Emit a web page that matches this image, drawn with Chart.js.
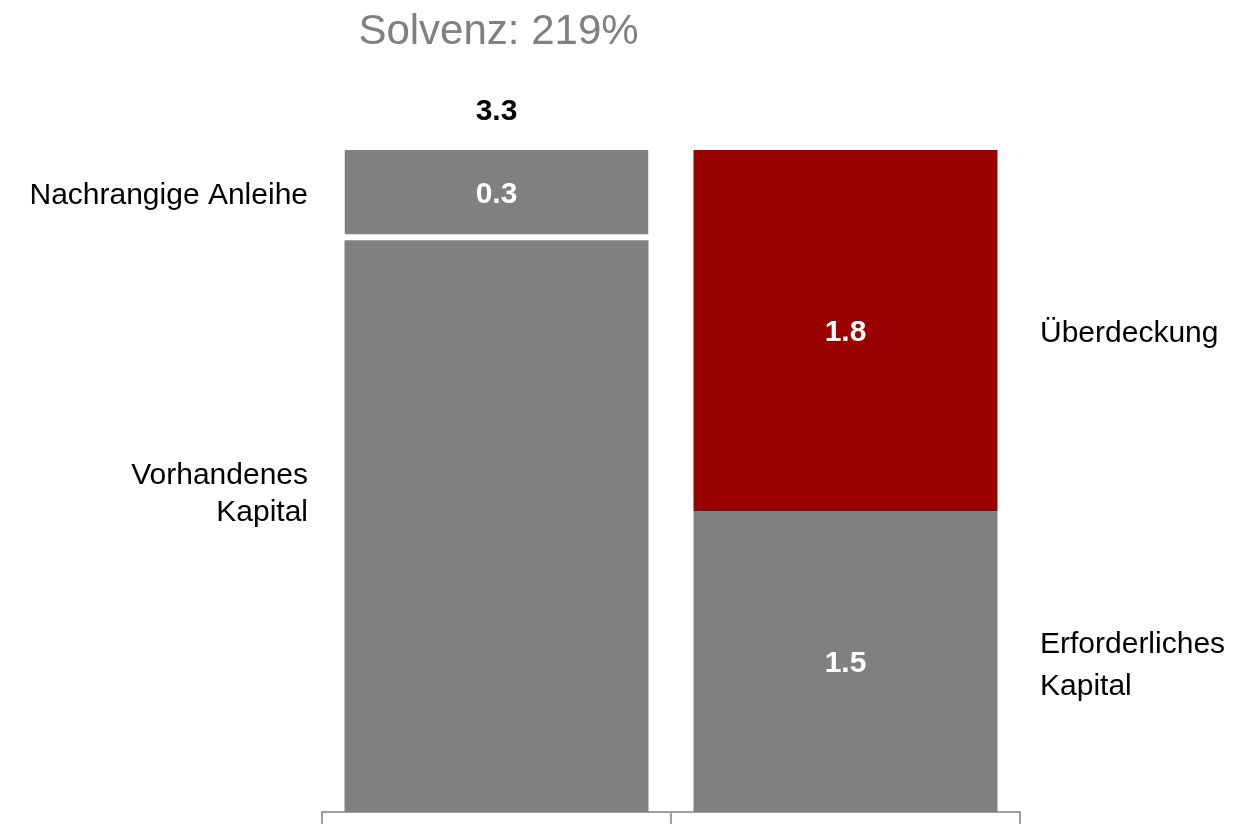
<!DOCTYPE html>
<html>
<head>
<meta charset="utf-8">
<script src="https://cdn.jsdelivr.net/npm/chart.js@4"></script>
<style>
  html, body { margin: 0; padding: 0; background: #ffffff; }
  canvas { display: block; }
</style>
</head>
<body>
<canvas id="c" width="1240" height="824"></canvas>
<script>
// ---- data ----
const categories = ["Vorhanden", "Erforderlich"];
const seriesNames = ["Vorhandenes Kapital", "Nachrangige Anleihe", "Erforderliches Kapital", "Überdeckung"];
const vorhandenesKapital = [2.85, null];
const nachrangigeAnleihe = [0.45, null];
const erforderlichesKapital = [null, 1.5];
const ueberdeckung = [null, 1.8];
const segmentLabels = [["", ""], ["0.3", ""], ["", "1.5"], ["", "1.8"]];
const totalLabel = "3.3";
const titleText = "Solvenz: 219%";

const GRAY = "#808080";
const RED = "#990000";
const FONT = "'Liberation Sans', Arial, Helvetica, sans-serif";

const labelPlugin = {
  id: "labels",
  afterDatasetsDraw(chart) {
    const ctx = chart.ctx;
    const m1 = chart.getDatasetMeta(1).data[0];
    const m2 = chart.getDatasetMeta(2).data[1];
    const m3 = chart.getDatasetMeta(3).data[1];
    ctx.save();
    // segment value labels
    ctx.font = "bold 30px " + FONT;
    ctx.fillStyle = "#ffffff";
    ctx.textAlign = "center";
    ctx.textBaseline = "alphabetic";
    chart.data.datasets.forEach((ds, di) => {
      const meta = chart.getDatasetMeta(di);
      meta.data.forEach((el, i) => {
        const t = segmentLabels[di][i];
        if (!t) return;
        const gap = (ds.borderWidth && ds.borderWidth.bottom) ? ds.borderWidth.bottom : 0;
        const cy = (el.y + el.base - gap) / 2;
        ctx.fillText(t, el.x, cy + 10.5);
      });
    });
    // total
    ctx.fillStyle = "#000000";
    ctx.fillText(totalLabel, m1.x, m1.y - 30);
    // title
    ctx.font = "42px " + FONT;
    ctx.fillStyle = GRAY;
    ctx.fillText(titleText, m1.x + 2, 44);
    // side labels
    ctx.font = "30px " + FONT;
    ctx.fillStyle = "#000000";
    const left = chart.chartArea.left - 14;
    const right = chart.chartArea.right + 20;
    ctx.textAlign = "right";
    ctx.fillText("Nachrangige Anleihe", left, (m1.y + m1.base - 6) / 2 + 12);
    ctx.fillText("Vorhandenes", left, 484);
    ctx.fillText("Kapital", left, 521);
    ctx.textAlign = "left";
    ctx.fillText("Überdeckung", right, (m3.y + m3.base) / 2 + 11);
    const c2 = (m2.y + m2.base) / 2;
    ctx.fillText("Erforderliches", right, c2 - 8.5);
    ctx.fillText("Kapital", right, c2 + 33.5);
    ctx.restore();
  }
};

new Chart(document.getElementById("c"), {
  type: "bar",
  data: {
    labels: categories,
    datasets: [
      { label: seriesNames[0], data: vorhandenesKapital, backgroundColor: GRAY, borderWidth: 0 },
      { label: seriesNames[1], data: nachrangigeAnleihe, backgroundColor: GRAY, borderColor: "#ffffff",
        borderWidth: { top: 0, left: 0, right: 0, bottom: 6 }, borderSkipped: false },
      { label: seriesNames[2], data: erforderlichesKapital, backgroundColor: GRAY, borderWidth: 0 },
      { label: seriesNames[3], data: ueberdeckung, backgroundColor: RED, borderWidth: 0 }
    ]
  },
  options: {
    responsive: false,
    animation: false,
    devicePixelRatio: 1,
    layout: { padding: { left: 322, right: 220, top: 150, bottom: 0 } },
    plugins: { legend: { display: false }, tooltip: { enabled: false }, title: { display: false } },
    datasets: { bar: { categoryPercentage: 1.0, barPercentage: 0.871, skipNull: false } },
    scales: {
      x: {
        stacked: true,
        offset: true,
        ticks: { display: false },
        grid: { display: true, drawOnChartArea: false, drawTicks: true, tickLength: 12, color: "#a0a0a0", lineWidth: 2, offset: true },
        border: { display: true, color: "#a0a0a0", width: 2 }
      },
      y: {
        stacked: true,
        display: false,
        min: 0,
        max: 3.3
      }
    }
  },
  plugins: [labelPlugin]
});
</script>
</body>
</html>
